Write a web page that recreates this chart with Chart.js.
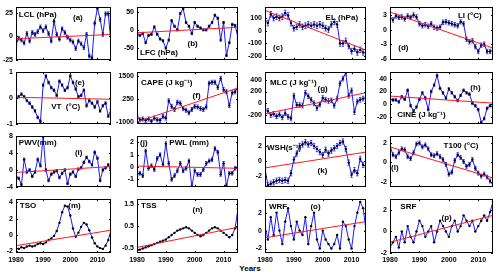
<!DOCTYPE html>
<html>
<head>
<meta charset="utf-8">
<script src="https://cdn.jsdelivr.net/npm/chart.js@4.4.0/dist/chart.umd.min.js"></script>
<style>
body{margin:0;width:500px;height:275px;overflow:hidden;background:#fff;position:relative}
canvas{position:absolute}
#years{position:absolute;left:0;width:500px;top:264px;text-align:center;font:bold 8px "Liberation Sans",Arial,sans-serif}
</style>
</head>
<body>
<div id="years">Years</div>
<script>
// years on the x axis
const years = [1980,1981,1982,1983,1984,1985,1986,1987,1988,1989,1990,1991,1992,1993,1994,1995,1996,1997,1998,1999,2000,2001,2002,2003,2004,2005,2006,2007,2008,2009,2010,2011,2012,2013,2014,2015];
const xTicks = [1980,1990,2000,2010];

// series
const lcl  = [-9,-2,-4,-7,3,-5,4,2,5,10,6,10,3,-5,16,2,-3,8,4,-1,-4,-6,-13,-5,-8,-12,2,-21,-23,14,30,18,2,24,24,-8];
const lfc  = [-10,-15,-10,-35,-15,-12,8,-12,-25,-30,-50,-28,25,10,0,45,58,20,10,-10,20,10,5,0,0,10,20,40,32,-28,20,-70,-35,15,12,-22];
const el   = [80,60,130,100,110,100,110,140,120,60,20,30,50,30,40,50,40,50,40,50,40,20,10,50,70,50,-100,-100,-80,-120,-160,-140,-170,-150,-170,-175];
const li   = [2.5,2,2.8,2.5,2.6,2.2,2.8,2.5,3,2.6,1.2,0.8,1.0,0.7,1.2,0.5,0.3,0.5,1.5,1.6,1.4,1.2,1.0,0.8,1.6,1.2,-2.0,-2.5,-2.3,-3.5,-4.5,-3.2,-3.0,-4.5,-4.5,-4.3];
const vt   = [0,0.05,0.15,0.05,-0.1,-0.2,-0.35,-0.5,-0.75,-0.9,0.5,0.85,0.6,0.4,0.3,0.1,0.65,0.5,0.3,0.4,0.85,0.6,0.35,0.05,0.1,0.3,-0.3,-0.1,-0.2,-0.35,-0.15,-0.5,-0.3,-0.2,-0.7,-0.45];
const cape = [-700,-880,-840,-910,-840,-970,-790,-880,-910,-700,-790,160,-150,-320,75,25,-270,-360,-500,-320,-150,-180,-270,-320,-180,1120,1170,1170,890,1380,770,650,-100,600,650,890];
const mlc  = [-100,-130,-200,-180,-220,-190,-240,-170,-230,-260,130,-30,-30,-40,180,120,60,0,-80,-20,90,60,40,50,-40,80,340,420,520,130,220,-150,30,60,80,100];
const cine = [8,7,7,4,12,8,22,-2,-10,-4,8,18,10,-8,20,30,45,25,18,10,24,18,12,6,14,22,18,16,2,-2,-8,-28,-22,-6,-2,-4];
const pwv  = [-1.5,-2,-3.5,2.5,-0.5,0,-1.5,-0.5,2.5,1,8,0,-2.5,-1,-0.5,-0.2,-1.8,-0.8,0,-3.2,-1,-0.5,-1.5,0.2,0.5,1.8,3,2,1.2,4.2,2.8,-2.5,0,0.5,1.2,-0.5];
const pwl  = [-0.6,-0.5,-0.7,1.3,-0.1,0.1,-0.2,0.7,1.0,0.2,1.9,0.3,-1.0,-0.7,-0.3,0.3,-0.3,-0.1,0.5,-1.6,-0.3,-0.6,-0.6,-0.2,0.3,0.5,0.6,1.5,1.2,-0.6,0.3,-1.5,-0.5,-0.5,-0.1,-0.1];
const wsh  = [-1,-3.2,-3,-2.8,-2.6,-2.5,-2.6,-2.5,-2.6,-1.6,0.2,1.0,2.0,2.2,2.5,2.2,2.4,2.0,1.6,1.2,0.8,1.5,1.0,1.4,1.7,2.0,2.4,2.6,1.6,-0.2,-1.8,-1.2,-1.6,0.3,-0.5,-0.7];
const t100 = [1.7,0.8,0.6,1.0,1.4,1.3,0.6,0.4,1.0,1.9,2.0,1.6,1.8,1.4,0.8,0.7,0.9,0.6,0.3,-0.2,-1.2,-1.0,0.2,0.8,0.5,0.1,-0.4,-0.2,0.3,-0.6,-1.1,-1.4,-1.2,-1.5,-1.9,-2.3];
const tso  = [-1.6,-1.7,-1.5,-1.6,-1.4,-1.3,-1.4,-1.3,-1.1,-1.0,-1.1,-0.9,-0.6,-0.4,-0.1,0.5,1.5,2.8,3.6,3.5,2.4,0.8,-0.2,0.3,1.0,1.5,1.3,0.6,-0.3,-1.0,-1.4,-1.6,-1.7,-1.3,-0.6,0.6];
const tss  = [-0.6,-0.55,-0.5,-0.45,-0.4,-0.35,-0.3,-0.25,-0.2,-0.15,-0.1,0.0,0.1,0.2,0.3,0.35,0.4,0.45,0.4,0.3,0.2,0.1,0.05,0.1,0.2,0.3,0.4,0.45,0.4,0.3,0.2,0.1,0.0,0.1,0.4,1.3];
const wrf  = [0.5,-1,1.5,-0.5,2,0,-1.5,1,2.5,0.5,-1,1,0,-0.5,1.5,-1.5,0.5,2,-1,-2,0,-1,-1.5,-2,-1.5,-0.5,-2,1,0.5,-1,-2,0.5,2,3.2,2.5,0];
const srf  = [-1.5,-1,-0.5,-1.5,0,-1,0.5,-0.5,-1,0,1,0.5,-0.5,0,0.5,-1,0,1,0.5,0,-0.5,0.5,1,0,0.5,1.5,1,0.5,1,0,0.5,1,1.5,1,1.8,2.8];

// linear trend end values (1980, 2015)
const trends = [[-2.6,2],[-8,7],[160,-152],[3.6,-3.8],[0.03,-0.05],[-1000,860],[-180,180],[13,2],[-0.6,0.8],[0.08,-0.1],[-0.9,1.2],[1.6,-1.6],[-1.3,0.6],[-0.45,0.45],[-0.8,1.0],[-1,1.5]];

// y axis ranges and tick labels
const yRanges = [[-25,31],[-82,62],[-228,185],[-6.2,4.6],[-1,1],[-1100,1720],[-350,530],[-30,50],[-4,8],[-1.6,2.5],[-3.4,3.3],[-2.5,2.7],[-2.2,4.4],[-0.7,1.7],[-2.5,3.5],[-2,3]];
const yTicks = [[-25,0,25],[-50,0,50],[-200,-100,0,100],[-6,-3,0,3],[-1,0,1],[-1000,250,1500],[-200,0,200,400],[-20,0,20,40],[-4,0,4,8],[-1,0,1,2],[-2,0,2],[-2,0,2],[-2,0,2,4],[-0.5,0.5,1.5],[-2,0,2],[-2,0,2]];
const errs = [2,3,22,0.45,0.05,110,40,2,0.3,0.15,0.35,0.2,0,0,0,0];

const series = [lcl,lfc,el,li,vt,cape,mlc,cine,pwv,pwl,wsh,t100,tso,tss,wrf,srf];
const labels = [
  [['LCL (hPa)',0.03,0.14],['(a)',0.6,0.2]],
  [['LFC (hPa)',0.03,0.86],['(b)',0.5,0.7]],
  [['EL (hPa)',0.6,0.2],['(c)',0.08,0.78]],
  [['LI (°C)',0.66,0.17],['(d)',0.08,0.78]],
  [['(e)',0.62,0.2],['VT  (°C)',0.37,0.68]],
  [['CAPE (J kg⁻¹)',0.04,0.2],['(f)',0.55,0.45]],
  [['MLC (J kg⁻¹)',0.05,0.2],['(g)',0.52,0.33]],
  [['(h)',0.78,0.3],['CINE (J kg⁻¹)',0.07,0.82]],
  [['PWV(mm)',0.03,0.14],['(i)',0.62,0.33]],
  [['(j)',0.03,0.14],['PWL (mm)',0.32,0.14]],
  [['WSH(s⁻¹)',0.02,0.22],['(k)',0.52,0.68]],
  [['T100 (°C)',0.52,0.18],['(l)',0.01,0.62]],
  [['TSO',0.04,0.13],['(m)',0.55,0.13]],
  [['TSS',0.04,0.13],['(n)',0.55,0.2]],
  [['WRF',0.04,0.15],['(o)',0.45,0.15]],
  [['SRF',0.1,0.15],['(p)',0.5,0.35]]
];

const cols = [[16,113],[137,240],[265,368],[390,495]];
const rows = [[5,62],[70,126],[134,189],[197,253]];
const FAM = '"Liberation Sans", Arial, sans-serif';
const BLUE = '#1a1aff';
const YW = 24, PADT = 5, PADR = 2;

const panelPlugin = {
  id: 'panel',
  beforeDatasetsDraw(chart, args, o) {
    if (!o.err) return;
    const {ctx, chartArea: a, scales: {x, y}} = chart;
    ctx.save();
    ctx.beginPath(); ctx.rect(a.left, a.top, a.width, a.height); ctx.clip();
    ctx.strokeStyle = BLUE; ctx.lineWidth = 0.8;
    ctx.beginPath();
    o.vals.forEach((v, i) => {
      const px = x.getPixelForValue(years[i]);
      const p1 = y.getPixelForValue(v + o.err), p2 = y.getPixelForValue(v - o.err);
      ctx.moveTo(px, p1); ctx.lineTo(px, p2);
      ctx.moveTo(px - 1.2, p1); ctx.lineTo(px + 1.2, p1);
      ctx.moveTo(px - 1.2, p2); ctx.lineTo(px + 1.2, p2);
    });
    ctx.stroke();
    ctx.restore();
  },
  afterDraw(chart, args, o) {
    const {ctx, chartArea: a, scales: {x, y}} = chart;
    ctx.save();
    ctx.strokeStyle = '#000'; ctx.lineWidth = 1;
    ctx.strokeRect(Math.round(a.left) + 0.5, Math.round(a.top) + 0.5, Math.round(a.width) - 1, Math.round(a.height) - 1);
    // inward tick marks
    ctx.beginPath();
    y.ticks.forEach(t => {
      const py = Math.round(y.getPixelForValue(t.value)) + 0.5;
      ctx.moveTo(a.left, py); ctx.lineTo(a.left + 2, py);
      ctx.moveTo(a.right, py); ctx.lineTo(a.right - 2, py);
    });
    xTicks.forEach(v => {
      const px = Math.round(x.getPixelForValue(v)) + 0.5;
      ctx.moveTo(px, a.bottom); ctx.lineTo(px, a.bottom - 2);
      ctx.moveTo(px, a.top); ctx.lineTo(px, a.top + 2);
    });
    ctx.stroke();
    ctx.fillStyle = '#000';
    ctx.font = 'bold 8px ' + FAM;
    ctx.textBaseline = 'middle';
    o.labels.forEach(([txt, fx, fy]) => {
      ctx.fillText(txt, a.left + fx * a.width, a.top + fy * a.height);
    });
    ctx.restore();
  }
};

series.forEach((vals, k) => {
  const r = Math.floor(k / 4), c = k % 4;
  const bottom = r === 3;
  const xh = bottom ? 12 : 0;
  const padB = bottom ? 2 : 5;
  const [l, rt] = cols[c], [t, b] = rows[r];
  const cv = document.createElement('canvas');
  cv.width = YW + (rt - l) + PADR;
  cv.height = PADT + (b - t) + xh + padB;
  cv.style.left = (l - YW) + 'px';
  cv.style.top = (t - PADT) + 'px';
  document.body.appendChild(cv);

  new Chart(cv, {
    type: 'line',
    data: {
      datasets: [{
        data: [{x: 1980, y: trends[k][0]}, {x: 2015, y: trends[k][1]}],
        borderColor: '#ff1a1a', borderWidth: 1, pointRadius: 0
      }, {
        data: years.map((yr, i) => ({x: yr, y: vals[i]})),
        borderColor: BLUE, borderWidth: 1,
        pointRadius: 1.2, pointBackgroundColor: '#000', pointBorderWidth: 0
      }]
    },
    options: {
      responsive: false,
      animation: false,
      layout: {padding: {top: PADT, right: PADR, bottom: padB, left: 0}},
      scales: {
        x: {
          type: 'linear', min: 1980, max: 2015,
          afterBuildTicks: s => { s.ticks = xTicks.map(v => ({value: v})); },
          afterFit: s => { s.height = xh; },
          grid: {display: false, drawTicks: false}, border: {display: false},
          ticks: {display: bottom, padding: 3, color: '#000', maxRotation: 0, autoSkip: false,
                  font: {family: FAM, size: 7, weight: 'bold'}, callback: v => String(v)}
        },
        y: {
          min: yRanges[k][0], max: yRanges[k][1],
          afterBuildTicks: s => { s.ticks = yTicks[k].map(v => ({value: v})); },
          afterFit: s => { s.width = YW; },
          grid: {display: false, drawTicks: false}, border: {display: false},
          ticks: {padding: 3, color: '#000', font: {family: FAM, size: 7, weight: 'bold'}, callback: v => String(v)}
        }
      },
      plugins: {
        legend: {display: false},
        tooltip: {enabled: false},
        panel: {vals: vals, err: errs[k], labels: labels[k]}
      }
    },
    plugins: [panelPlugin]
  });
});
</script>
</body>
</html>
